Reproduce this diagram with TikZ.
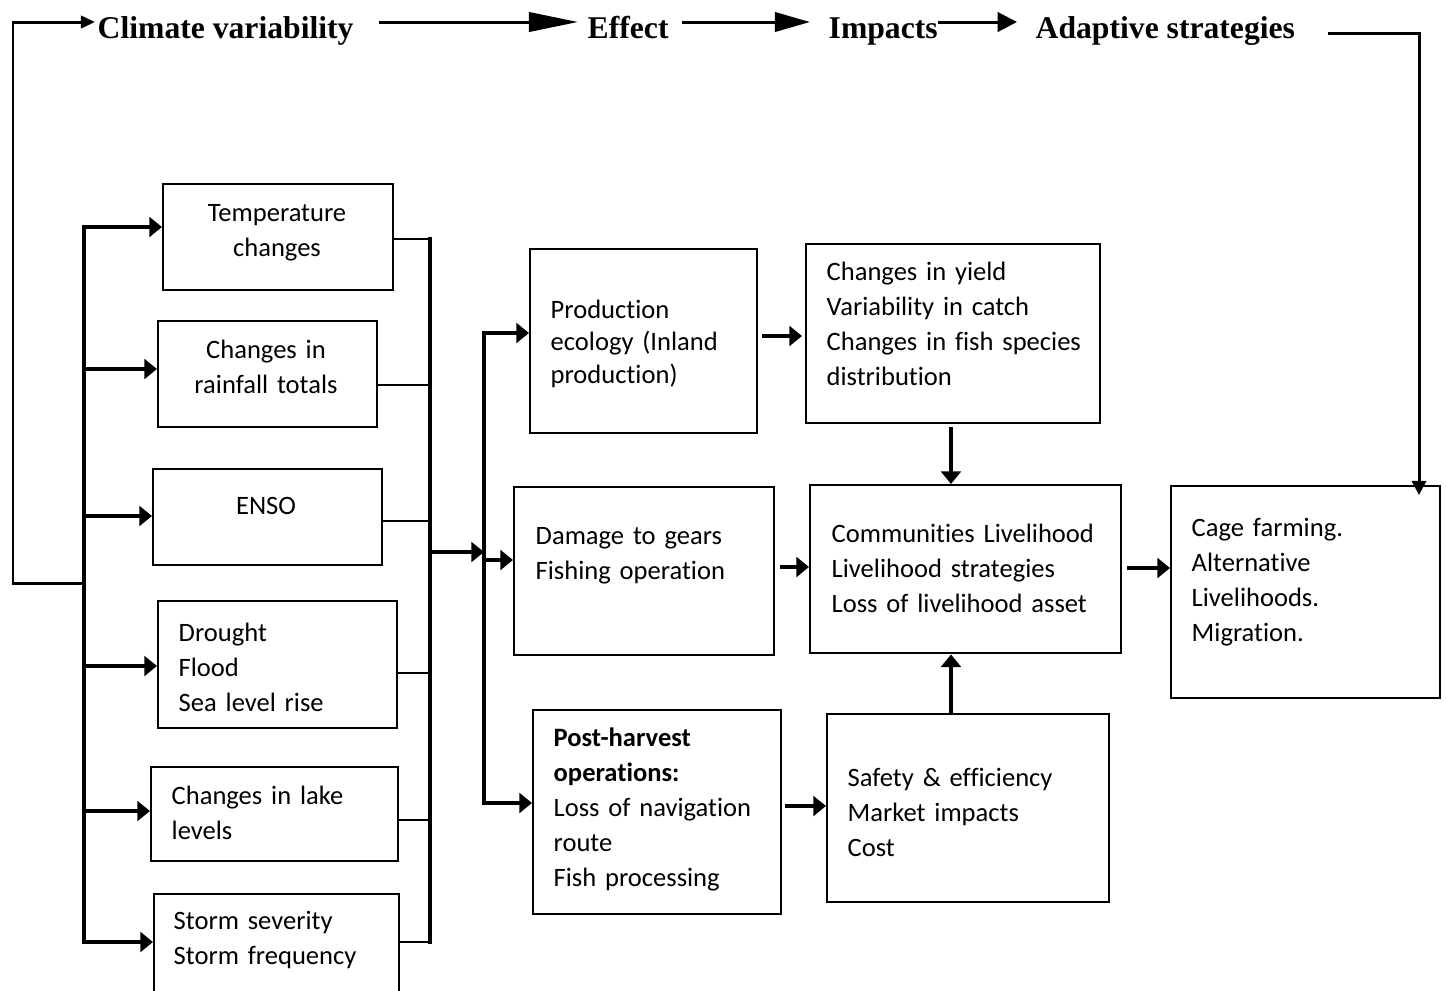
\documentclass[tikz,border=0pt]{standalone}
\usepackage{fontspec}
\setmainfont[Ligatures=CommonOff,Contextuals=AlternateOff]{Carlito}
\newfontfamily\hdfont{Liberation Serif}
\usetikzlibrary{arrows.meta}

\begin{document}
\begin{tikzpicture}[x=0.01cm,y=-0.01cm,
  box/.style={draw,line width=0.65pt,anchor=north west,inner sep=0pt},
  txt/.style={font=\fontsize{7.55pt}{0.35cm}\selectfont,inner sep=0pt,text width=3.2cm,align=left,anchor=base west},
  ctxt/.style={txt,align=center,anchor=base},
  hd/.style={font=\hdfont\bfseries\fontsize{9pt}{11pt}\selectfont,inner sep=0pt,anchor=base west},
  hline/.style={line width=0.85pt},
  bus/.style={line width=1.15pt,line cap=rect},
  link/.style={line width=0.4pt},
  arr/.style={line width=1.15pt,-{Triangle[length=3.6pt,width=5.6pt]}}]
\useasboundingbox (0,0) rectangle (1446,990);
\clip (0,0) rectangle (1446,990);

% top row
\node[hd] (clim) at (97,38) {Climate variability};
\node[hd] (eff) at (587,38) {Effect};
\node[hd] (imp) at (828,38) {Impacts};
\node[hd] (adap) at (1035,38) {Adaptive strategies};
\coordinate (ar) at (0,22);
\coordinate (fbl) at (13,22);
\coordinate (fbr) at (1419,33);
\draw[hline,-{Triangle[length=14pt,width=5.5pt]},shorten <=0.25cm,shorten >=0.09cm] (clim.east |- ar) -- (eff.west |- ar);
\draw[hline,-{Triangle[length=10pt,width=5.5pt]},shorten <=0.13cm,shorten >=0.18cm] (eff.east |- ar) -- (imp.west |- ar);
\draw[hline,-{Triangle[length=5.5pt,width=5.5pt]},shorten >=0.18cm] (imp.east |- ar) -- (adap.west |- ar);

% climate variables
\node[box,minimum width=2.30cm,minimum height=1.06cm] (temp) at (162,183) {};
\node[box,minimum width=2.19cm,minimum height=1.06cm] (rain) at (157,320) {};
\node[box,minimum width=2.29cm,minimum height=0.96cm] (enso) at (152,468) {};
\node[box,minimum width=2.39cm,minimum height=1.27cm] (drought) at (157,600) {};
\node[box,minimum width=2.47cm,minimum height=0.94cm] (lake) at (150,766) {};
\node[box,minimum width=2.45cm,minimum height=1.20cm] (storm) at (153,893) {};
\node[ctxt] (tempt) at (277,221) {Temperature\\changes};
\node[ctxt] (raint) at (266,358) {Changes in\\rainfall totals};
\node[ctxt] (ensot) at (266,514) {ENSO};
\node[txt] (droughtt) at (178,641) {Drought\\Flood\\Sea level rise};
\node[txt] (laket) at (171,804) {Changes in lake\\levels};
\node[txt] (stormt) at (173,929) {Storm severity\\Storm frequency};

% left bus and feedback loop
\coordinate (lbt) at (84,227);
\coordinate (lbm) at (84,583);
\coordinate (lbb) at (84,942);
\draw[bus] (lbt) -- (lbb);
\draw[hline,-{Triangle[length=4pt,width=3.5pt]},shorten >=0.02cm] (lbm) -| (fbl) -- (clim.west |- ar);
\draw[arr] (lbt) -- (lbt -| temp.west);
\draw[arr] (lbt |- 0,369) -- (rain.west |- 0,369);
\draw[arr] (lbt |- 0,516) -- (enso.west |- 0,516);
\draw[arr] (lbt |- 0,666) -- (drought.west |- 0,666);
\draw[arr] (lbt |- 0,811) -- (lake.west |- 0,811);
\draw[arr] (lbb) -- (lbb -| storm.west);

% right bus
\coordinate (rbt) at (430,239);
\coordinate (rbb) at (430,942);
\draw[line width=0.65pt] (temp.east |- rbt) -- (rbt);
\draw[bus] (rbt) -- (rbb);
\draw[link] (rain.east |- 0,385) -- (rbt |- 0,385);
\draw[link] (enso.east |- 0,521) -- (rbt |- 0,521);
\draw[link] (drought.east |- 0,673) -- (rbt |- 0,673);
\draw[link] (lake.east |- 0,820) -- (rbt |- 0,820);
\draw[link] (storm.east |- rbb) -- (rbb);

% effects
\node[box,minimum width=2.27cm,minimum height=1.84cm] (prod) at (529,248) {};
\node[box,minimum width=2.60cm,minimum height=1.68cm] (dmg) at (513,486) {};
\node[box,minimum width=2.48cm,minimum height=2.04cm] (post) at (532,709) {};
\node[txt,font=\fontsize{7.55pt}{0.325cm}\selectfont] (prodt) at (550,318) {Production\\ecology (Inland\\production)};
\node[txt] (dmgt) at (535,544) {Damage to gears\\Fishing operation};
\node[txt] (postt) at (553,746) {\textbf{Post-harvest}\\\textbf{operations:}\\Loss of navigation\\route\\Fish processing};

\coordinate (mbt) at (484,333);
\coordinate (mbb) at (484,803);
\draw[arr] (rbt |- 0,552) -- (mbt |- 0,552);
\draw[bus] (mbt) -- (mbb);
\draw[arr] (mbt) -- (mbt -| prod.west);
\draw[arr] (mbt |- 0,560) -- (dmg.west |- 0,560);
\draw[arr] (mbb) -- (mbb -| post.west);

% impacts
\node[box,minimum width=2.94cm,minimum height=1.79cm] (yield) at (805,243) {};
\node[box,minimum width=3.11cm,minimum height=1.68cm] (comm) at (809,484) {};
\node[box,minimum width=2.82cm,minimum height=1.88cm] (safety) at (826,713) {};
\node[txt] (yieldt) at (826,280) {Changes in yield\\Variability in catch\\Changes in fish species\\distribution};
\node[txt] (commt) at (831,542) {Communities Livelihood\\Livelihood strategies\\Loss of livelihood asset};
\node[txt] (safetyt) at (847,786) {Safety \& efficiency\\Market impacts\\Cost};

\draw[arr,shorten <=0.04cm,shorten >=0.03cm] (prod.east |- 0,336) -- (yield.west |- 0,336);
\draw[arr,shorten <=0.05cm] (dmg.east |- 0,567) -- (comm.west |- 0,567);
\draw[arr,shorten <=0.03cm] (post.east |- 0,806) -- (safety.west |- 0,806);
\draw[arr,shorten <=0.03cm] (yield.south -| 951,0) -- (comm.north -| 951,0);
\draw[arr] (safety.north -| 951,0) -- (comm.south -| 951,0);

% adaptive strategies
\node[box,minimum width=2.69cm,minimum height=2.12cm] (adapbox) at (1170,485) {};
\node[txt] (adapt) at (1191,536) {Cage farming.\\Alternative\\Livelihoods.\\Migration.};
\draw[arr,shorten <=0.05cm] (comm.east |- 0,568) -- (adapbox.west |- 0,568);
\draw[hline,-{Triangle[length=4pt,width=4pt]},shorten <=0.32cm,shorten >=-0.1cm] (adap.east |- fbr) -- (fbr) -- (fbr |- adapbox.north);
\end{tikzpicture}
\end{document}
